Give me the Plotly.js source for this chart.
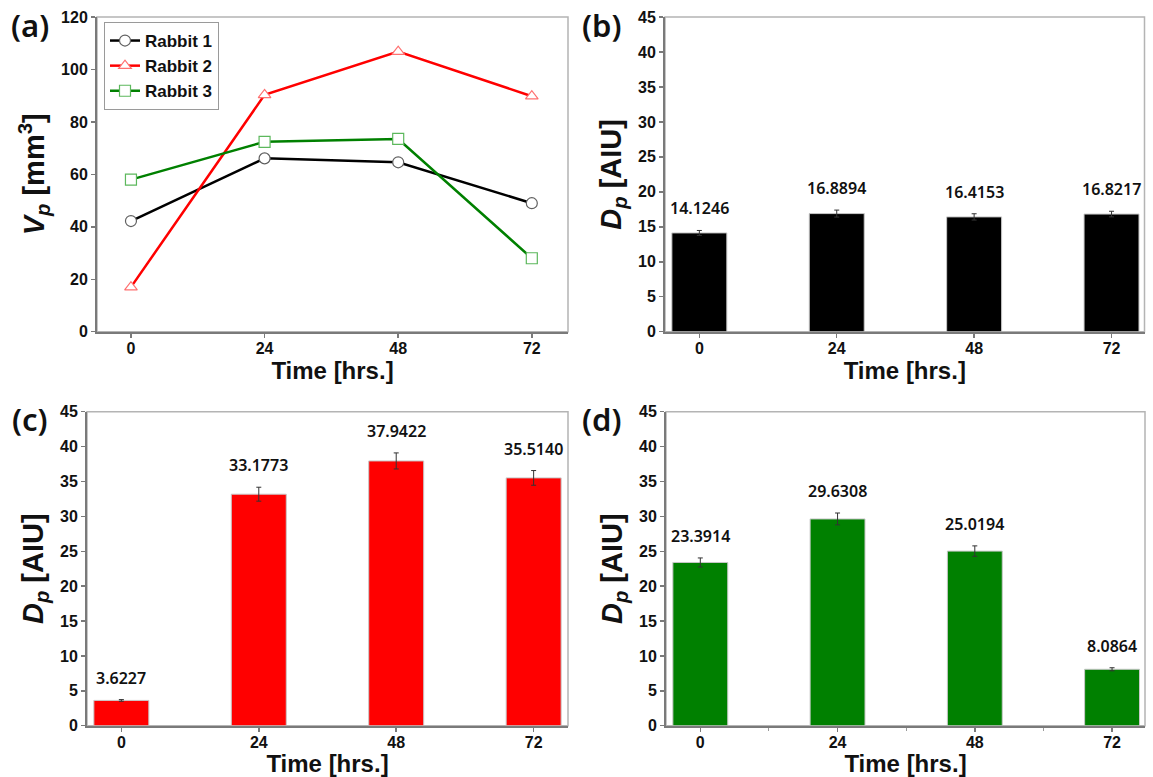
<!DOCTYPE html>
<html>
<head>
<meta charset="utf-8">
<script src="https://cdn.plot.ly/plotly-3.0.1.min.js"></script>
<style>html,body{margin:0;padding:0;background:#fff;}#chart{width:1153px;height:777px;}</style>
</head>
<body>
<div id="chart"></div>
<script>
// ---- data ----
const timeLabels = ['0', '24', '48', '72'];
const timeHours = [0, 24, 48, 72];

const rabbit1Vp = [42.2, 66.1, 64.6, 49.0];
const rabbit2Vp = [17.0, 90.3, 106.8, 89.8];
const rabbit3Vp = [58.0, 72.4, 73.5, 28.0];

const panelB_Dp = [14.1246, 16.8894, 16.4153, 16.8217];
const panelB_err = [0.35, 0.5, 0.45, 0.4];
const panelC_Dp = [3.6227, 33.1773, 37.9422, 35.5140];
const panelC_err = [0.12, 1.0, 1.15, 1.05];
const panelD_Dp = [23.3914, 29.6308, 25.0194, 8.0864];
const panelD_err = [0.65, 0.85, 0.75, 0.22];

// category positions (index of each time label)
const catPos = timeLabels.map((_, i) => i);

// ---- layout helpers ----
const W = 1153, H = 777;
const px = v => v / W;
const py = v => 1 - v / H;

const tickFont = {family: 'Liberation Sans, Arial, sans-serif', size: 16, color: '#111', weight: 'bold'};
const titleFont = {family: 'Liberation Sans, Arial, sans-serif', size: 24, color: '#111', weight: 'bold'};
const ytitleFont = {family: 'Liberation Sans, Arial, sans-serif', size: 29, color: '#111', weight: 'bold'};

function xAxis(domain, anchor, extra) {
  return Object.assign({
    domain: domain, anchor: anchor,
    showline: true, linecolor: '#7a7a7a', linewidth: 2,
    ticks: 'outside', ticklen: 4, tickwidth: 1.5, tickcolor: '#7a7a7a',
    ticklabelstandoff: -3,
    showgrid: false, zeroline: false,
    tickfont: tickFont,
    title: {text: 'Time [hrs.]', font: titleFont, standoff: 0}
  }, extra);
}
function yAxis(domain, anchor, range, dtick, titleText) {
  return {
    domain: domain, anchor: anchor, range: range, dtick: dtick,
    showline: true, linecolor: '#7a7a7a', linewidth: 2,
    ticks: 'outside', ticklen: 4, tickwidth: 1.5, tickcolor: '#7a7a7a',
    showgrid: false, zeroline: false,
    tickfont: tickFont,
    title: {text: titleText, font: ytitleFont, standoff: 8}
  };
}

const dpTitle = '<i>D<sub>p</sub></i> [AIU]';
const vpTitle = '<i>V<sub>p</sub></i> [mm<sup>3</sup>]';

const topDom = [py(331.7), py(17)];
const botDom = [py(725.7), py(411.7)];

const traces = [];
function lineTrace(name, y, lineColor, symbol, markerColor) {
  return {
    type: 'scatter', mode: 'lines+markers', name: name,
    x: timeHours, y: y, xaxis: 'x', yaxis: 'y',
    line: {color: lineColor, width: 2.5},
    marker: {symbol: symbol, size: 11, color: 'white', line: {color: markerColor, width: 1.2}}
  };
}
traces.push(lineTrace('Rabbit 1', rabbit1Vp, '#000000', 'circle', '#606060'));
traces.push(lineTrace('Rabbit 2', rabbit2Vp, '#ff0000', 'triangle-up', '#ff7070'));
traces.push(lineTrace('Rabbit 3', rabbit3Vp, '#008000', 'square', '#5cb85c'));

function barTrace(y, err, color, xa, ya) {
  return {
    type: 'bar', x: catPos, y: y, xaxis: xa, yaxis: ya, width: 0.4,
    showlegend: false,
    marker: {color: color, line: {color: '#c8c8c8', width: 1}},
    error_y: {type: 'data', array: err, visible: true, color: '#333', thickness: 1, width: 2.5}
  };
}
traces.push(barTrace(panelB_Dp, panelB_err, '#000000', 'x2', 'y2'));
traces.push(barTrace(panelC_Dp, panelC_err, '#ff0000', 'x3', 'y3'));
traces.push(barTrace(panelD_Dp, panelD_err, '#008000', 'x4', 'y4'));

const valFont = {family: 'Noto Sans, sans-serif', size: 16, color: '#111', weight: 600};
const annotations = [];
function addLabels(vals, errs, xa, ya) {
  vals.forEach((v, i) => {
    annotations.push({
      x: catPos[i], y: v + errs[i], xref: xa, yref: ya,
      text: v.toFixed(4), showarrow: false, yanchor: 'middle', yshift: 22,
      font: valFont
    });
  });
}
addLabels(panelB_Dp, panelB_err, 'x2', 'y2');
addLabels(panelC_Dp, panelC_err, 'x3', 'y3');
addLabels(panelD_Dp, panelD_err, 'x4', 'y4');

const panelFont = {family: 'Noto Sans, sans-serif', size: 31, color: '#111', weight: 600};
[['(a)', 30, 25], ['(b)', 602, 25], ['(c)', 30, 419], ['(d)', 602, 419]].forEach(p => {
  annotations.push({x: px(p[1]), y: py(p[2]), xref: 'paper', yref: 'paper', text: p[0],
    showarrow: false, xanchor: 'center', yanchor: 'middle', font: panelFont});
});

const shapes = [];
[['x', 'y'], ['x2', 'y2'], ['x3', 'y3'], ['x4', 'y4']].forEach(a => {
  shapes.push({type: 'rect', xref: a[0] + ' domain', yref: a[1] + ' domain', x0: 0, x1: 1, y0: 0, y1: 1,
    line: {color: '#b4b4b4', width: 1.5}, layer: 'below'});
});

const catExtra = (r, extra) => Object.assign({range: r, tickvals: catPos, ticktext: timeLabels}, extra || {});

const layout = {
  width: W, height: H,
  margin: {l: 0, r: 0, t: 0, b: 0},
  paper_bgcolor: '#fff', plot_bgcolor: 'rgba(0,0,0,0)',
  showlegend: true,
  legend: {
    x: px(104), y: py(22), xanchor: 'left', yanchor: 'top',
    bordercolor: '#9a9a9a', borderwidth: 1, bgcolor: '#fff',
    font: {family: 'Liberation Sans, Arial, sans-serif', size: 17, color: '#111', weight: 'bold'},
    tracegroupgap: 0, itemwidth: 30
  },
  xaxis: xAxis([px(97), px(568)], 'y', {range: [-6.1, 78.5], tickvals: timeHours, ticktext: timeLabels}),
  yaxis: yAxis(topDom, 'x', [0, 120], 20, vpTitle),
  xaxis2: xAxis([px(665), px(1144.5)], 'y2', catExtra([-0.25, 3.24])),
  yaxis2: yAxis(topDom, 'x2', [0, 45], 5, dpTitle),
  xaxis3: xAxis([px(87), px(568)], 'y3', catExtra([-0.25, 3.25])),
  yaxis3: yAxis(botDom, 'x3', [0, 45], 5, dpTitle),
  xaxis4: xAxis([px(666), px(1145)], 'y4', catExtra([-0.25, 3.24],
    {minor: {tickvals: [0.5, 1.5, 2.5], ticks: 'outside', ticklen: 3, tickwidth: 1, tickcolor: '#9a9a9a'}})),
  yaxis4: yAxis(botDom, 'x4', [0, 45], 5, dpTitle),
  annotations: annotations,
  shapes: shapes,
  bargap: 0.6
};

Plotly.newPlot('chart', traces, layout, {displayModeBar: false, staticPlot: true});
</script>
</body>
</html>
